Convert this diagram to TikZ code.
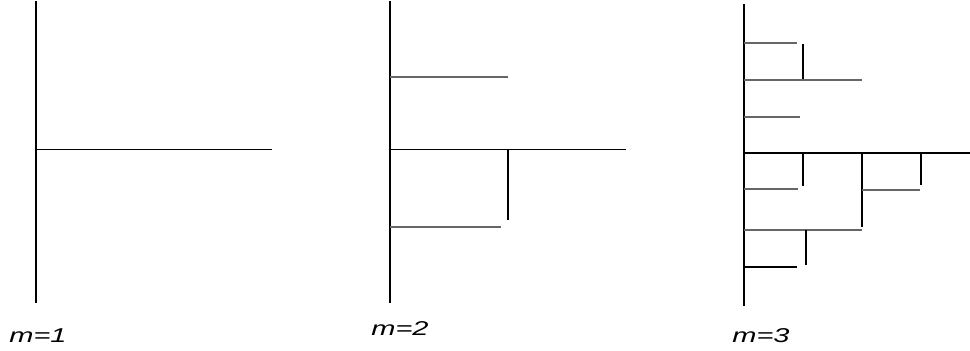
\documentclass[tikz,border=0pt]{standalone}
\usepackage{fontspec}
\setmainfont{Liberation Sans}
\begin{document}
\begin{tikzpicture}[x=1pt,y=-1pt,
  spine/.style={line width=1.8pt,black},
  blk/.style={line width=1.3pt,black},
  gry/.style={line width=1.3pt,black!60},
  lab/.style={font=\fontsize{20}{20}\selectfont\itshape,inner sep=0pt}]
\useasboundingbox (0,0) rectangle (970,351);
% m=1
\draw[spine] (36,1) -- (36,303);
\draw[blk] (36,149.5) -- (272,149.5);
\node[lab] (l1) at (38,336) {\scalebox{1.45}[1]{m=1}};
% m=2
\draw[spine] (390,1) -- (390,303);
\draw[gry] (390,77) -- (508,77);
\draw[blk] (390,149.5) -- (626,149.5);
\draw[blk] (508,149.5) -- (508,220);
\draw[gry] (390,227) -- (501,227);
\node[lab] (l2) at (400,329) {\scalebox{1.45}[1]{m=2}};
% m=3
\draw[spine] (744,4) -- (744,306);
\draw[gry] (744,43) -- (797,43);
\draw[blk] (803,44) -- (803,80);
\draw[gry] (744,80) -- (862,80);
\draw[gry] (744,117) -- (800,117);
\draw[blk] (744,153) -- (970,153);
\draw[blk] (803,153) -- (803,186);
\draw[gry] (744,189) -- (798,189);
\draw[blk] (862,153) -- (862,227);
\draw[gry] (862,190) -- (920,190);
\draw[blk] (921,153) -- (921,185);
\draw[gry] (744,230) -- (862,230);
\draw[blk] (806,230) -- (806,265);
\draw[blk] (744,267) -- (797,267);
\node[lab] (l3) at (761,336) {\scalebox{1.45}[1]{m=3}};
\end{tikzpicture}
\end{document}
